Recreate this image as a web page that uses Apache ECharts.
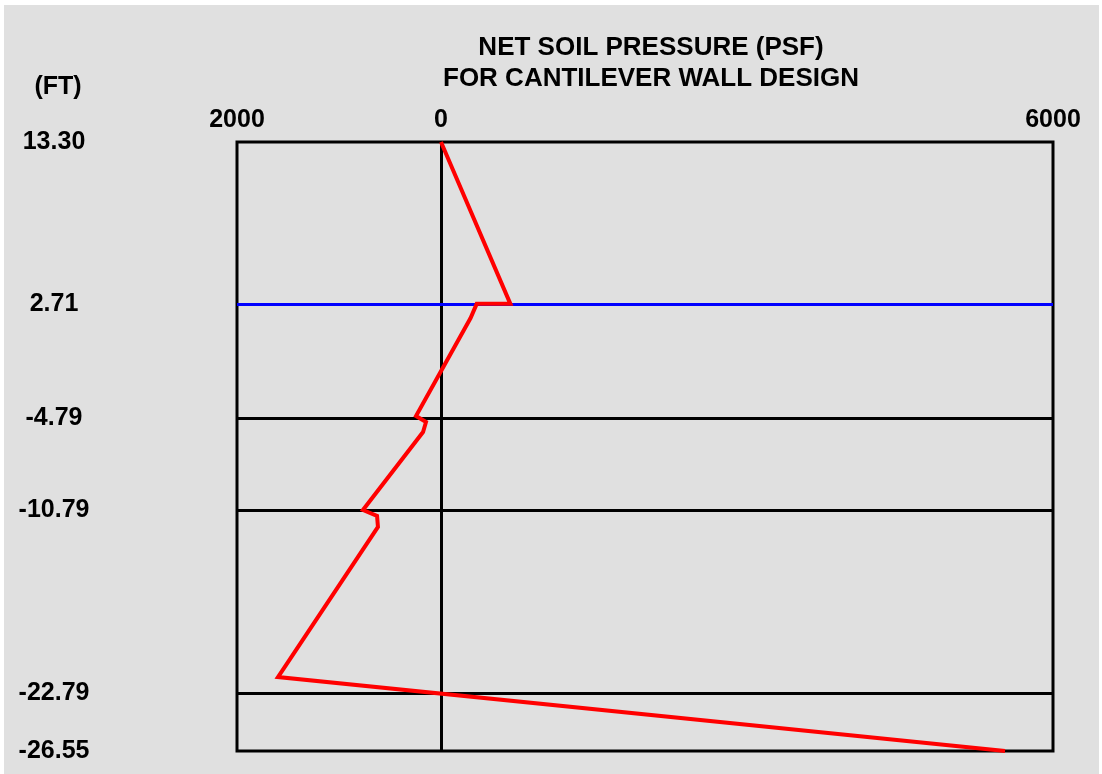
<!DOCTYPE html>
<html>
<head>
<meta charset="utf-8">
<script src="https://cdn.jsdelivr.net/npm/echarts@6/dist/echarts.min.js"></script>
<style>
  html, body { margin: 0; padding: 0; background: #ffffff; width: 1102px; height: 774px; overflow: hidden; }
  #chart { position: absolute; left: 4px; top: 5px; width: 1095px; height: 769px; }
</style>
</head>
<body>
<div id="chart"></div>
<script>
// Net soil pressure profile along the wall (elevation in ft, pressure in psf)
const elevationFt = [13.30, 2.71, 2.71, 1.78, -4.63, -5.02, -5.68, -10.78, -11.17, -11.89, -21.71, -26.55];
const pressurePsf = [0, 680, 350, 290, -245, -147, -176, -765, -627, -618, -1598, 5530];

// Elevation marks shown on the left
const elevationTicks = [13.30, 2.71, -4.79, -10.79, -22.79, -26.55];
// Pressure ticks shown on top
const pressureTicks = [-2000, 0, 6000];
// Layer boundaries drawn across the plot
const waterLevel = 2.71;
const layerBreaks = [-4.79, -10.79, -22.79];

const titleLines = ['NET SOIL PRESSURE (PSF)', 'FOR CANTILEVER WALL DESIGN'];
const unitLabel = '(FT)';

const FONT = '"Liberation Sans", Arial, sans-serif';

const chart = echarts.init(document.getElementById('chart'));

const profile = pressurePsf.map((p, i) => [p, elevationFt[i]]);

const guideLines = [
  { xAxis: 0, lineStyle: { color: '#000000', width: 3, type: 'solid' } },
  { yAxis: waterLevel, lineStyle: { color: '#0000ff', width: 3, type: 'solid' } }
].concat(layerBreaks.map(v => ({ yAxis: v, lineStyle: { color: '#000000', width: 3, type: 'solid' } })));

chart.setOption({
  backgroundColor: '#e0e0e0',
  animation: false,
  title: [
    {
      text: titleLines.join('\n'),
      left: 642,
      top: 22,
      textAlign: 'center',
      textStyle: { fontFamily: FONT, fontWeight: 'bold', fontSize: 26, lineHeight: 31, color: '#000000' }
    },
    {
      text: unitLabel,
      left: 49,
      top: 65,
      textAlign: 'center',
      textStyle: { fontFamily: FONT, fontWeight: 'bold', fontSize: 25, color: '#000000' }
    }
  ],
  grid: {
    left: 233, top: 137, width: 816, height: 609,
    show: true, borderColor: '#000000', borderWidth: 3, backgroundColor: 'transparent'
  },
  xAxis: {
    type: 'value',
    position: 'top',
    min: -2000,
    max: 6000,
    axisLine: { show: false },
    axisTick: { show: false },
    splitLine: { show: false },
    axisLabel: {
      customValues: pressureTicks,
      formatter: v => String(Math.abs(v)),
      margin: 9,
      fontFamily: FONT,
      fontWeight: 'bold',
      fontSize: 25,
      color: '#000000'
    }
  },
  yAxis: {
    type: 'value',
    min: -26.55,
    max: 13.30,
    axisLine: { show: false },
    axisTick: { show: false },
    splitLine: { show: false },
    axisLabel: {
      customValues: elevationTicks,
      formatter: v => v.toFixed(2),
      align: 'center',
      margin: 183,
      fontFamily: FONT,
      fontWeight: 'bold',
      fontSize: 25,
      color: '#000000'
    }
  },
  series: [
    {
      type: 'line',
      data: [],
      z: 1,
      silent: true,
      markLine: {
        silent: true,
        symbol: 'none',
        label: { show: false },
        data: guideLines
      }
    },
    {
      type: 'line',
      data: profile,
      z: 5,
      clip: false,
      symbol: 'none',
      lineStyle: { color: '#ff0000', width: 4, join: 'miter' },
      itemStyle: { color: '#ff0000' }
    }
  ]
});
</script>
</body>
</html>
